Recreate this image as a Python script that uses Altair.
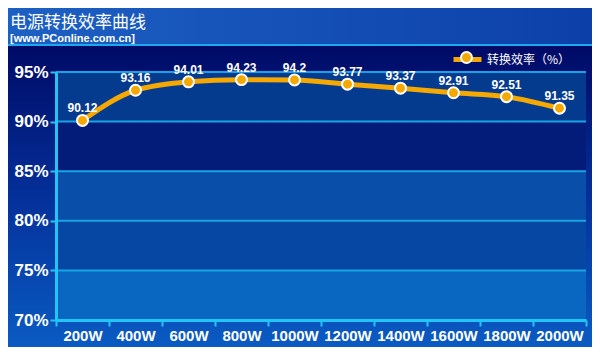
import altair as alt
import pandas as pd

# ---- data ----
watts = ["200W", "400W", "600W", "800W", "1000W", "1200W", "1400W", "1600W", "1800W", "2000W"]
efficiency = [90.12, 93.16, 94.01, 94.23, 94.2, 93.77, 93.37, 92.91, 92.51, 91.35]
labels = ["90.12", "93.16", "94.01", "94.23", "94.2", "93.77", "93.37", "92.91", "92.51", "91.35"]
y_ticks = [70, 75, 80, 85, 90, 95]
band_colors = ["#0a67c1", "#0747a4", "#094fa9", "#031c7a", "#053b8f"]  # bands 70-75 ... 90-95
series_name = "转换效率（%）"
title_text = "电源转换效率曲线"
subtitle_text = "[www.PConline.com.cn]"

W, H = 530, 248
ORANGE = "#f5a800"
CYAN_GRID = "#1aa3e4"
CYAN_AXIS = "#22c6f6"
LATIN = "Liberation Sans"
CJK = "Noto Sans CJK SC"

df = pd.DataFrame({
    "watt": watts,
    "eff": efficiency,
    "lab": labels,
    "s1": [series_name] * len(watts),
    "s2": [series_name] * len(watts),
})
bands = pd.DataFrame({
    "lo": y_ticks[:-1],
    "hi": y_ticks[1:],
    "c": band_colors,
})
grid = pd.DataFrame({"v": y_ticks})
one = pd.DataFrame({"a": [0]})
titles = pd.DataFrame({"t": [title_text]})
subtitles = pd.DataFrame({"t": [subtitle_text]})

xs = alt.Scale(type="band", domain=watts, paddingInner=0, paddingOuter=0)
ys = alt.Scale(domain=[70, 95], nice=False, zero=False)

# ---- decorative backgrounds ----
bg = alt.Chart(one).mark_rect(
    color=alt.LinearGradient(
        gradient="linear",
        stops=[alt.GradientStop(color="#000a66", offset=0),
               alt.GradientStop(color="#04309a", offset=0.5),
               alt.GradientStop(color="#0a5cc4", offset=1)],
        x1=0, x2=0, y1=0, y2=1),
).encode(x=alt.value(-48), x2=alt.value(W + 6), y=alt.value(-26), y2=alt.value(H + 30))

header = alt.Chart(one).mark_rect(
    color=alt.LinearGradient(
        gradient="linear",
        stops=[alt.GradientStop(color="#1d60c4", offset=0),
               alt.GradientStop(color="#0c40a8", offset=1)],
        x1=0, x2=1, y1=0, y2=0),
).encode(x=alt.value(-48), x2=alt.value(W + 6), y=alt.value(-64), y2=alt.value(-28))

header_line = alt.Chart(one).mark_rect(color="#1ea8ee").encode(
    x=alt.value(-48), x2=alt.value(W + 6), y=alt.value(-28), y2=alt.value(-26))

title_mark = alt.Chart(titles).mark_text(
    align="left", baseline="alphabetic", font=CJK, fontSize=17, color="white"
).encode(x=alt.value(-46), y=alt.value(-44), text="t:N")

subtitle_mark = alt.Chart(subtitles).mark_text(
    align="left", baseline="alphabetic", font=LATIN, fontSize=11, fontWeight="bold",
    color="white"
).encode(x=alt.value(-46), y=alt.value(-30), text="t:N")

band_rects = alt.Chart(bands).mark_rect().encode(
    y=alt.Y("lo:Q", scale=ys),
    y2="hi:Q",
    color=alt.Color("c:N", scale=None, legend=None),
)

grid_rules = alt.Chart(grid).mark_rule(color=CYAN_GRID, strokeWidth=2).encode(
    y=alt.Y("v:Q", scale=ys))

# ---- data layers ----
base = alt.Chart(df).encode(
    x=alt.X("watt:N", scale=xs, sort=watts,
            axis=alt.Axis(title=None, labelAngle=0, tickBand="extent", zindex=1,
                          labelFont=LATIN, labelFontSize=15, labelFontWeight="bold",
                          labelColor="white", labelPadding=2,
                          tickColor=CYAN_AXIS, tickSize=6, tickWidth=2,
                          domainColor=CYAN_AXIS, domainWidth=3, grid=False)),
    y=alt.Y("eff:Q", scale=ys,
            axis=alt.Axis(title=None, values=y_ticks, labelExpr="datum.value + '%'",
                          zindex=1, labelFont=LATIN, labelFontSize=17,
                          labelFontWeight="bold", labelColor="white", labelPadding=2,
                          tickColor=CYAN_AXIS, tickSize=6, tickWidth=2,
                          domainColor=CYAN_AXIS, domainWidth=3, grid=False)),
)

line = base.mark_line(interpolate="monotone", strokeWidth=5).encode(
    color=alt.Color("s1:N", scale=alt.Scale(range=[ORANGE]),
                    legend=alt.Legend(title=None, orient="none", legendX=395, legendY=-29,
                                      symbolType="stroke", symbolSize=784,
                                      symbolStrokeWidth=5, labelColor="white",
                                      labelFont=CJK, labelFontSize=12, labelOffset=3,
                                      padding=0)),
)

points = base.mark_circle(size=120, stroke="white", strokeWidth=2, opacity=1).encode(
    fill=alt.Fill("s2:N", scale=alt.Scale(range=[ORANGE]),
                  legend=alt.Legend(title=None, orient="none", legendX=404, legendY=-21,
                                    symbolType="circle", symbolSize=120,
                                    symbolStrokeColor="white", symbolStrokeWidth=2,
                                    symbolOpacity=1, labelExpr="''",
                                    labelFont=CJK, labelFontSize=12, padding=0)),
)

text = base.mark_text(dy=-8, baseline="alphabetic", color="white", font=LATIN,
                      fontSize=12, fontWeight="bold").encode(text="lab:N")

chart = alt.layer(
    bg, header, header_line, title_mark, subtitle_mark,
    band_rects, grid_rules, line, points, text
).resolve_scale(
    color="independent", fill="independent"
).properties(
    width=W, height=H,
    autosize=alt.AutoSizeParams(type="none"),
    padding={"left": 48, "top": 64, "right": 6, "bottom": 27},
).configure(background="#0a3a9a").configure_view(stroke=None)

chart.save("out.html", embed_options={"renderer": "svg", "actions": False})
